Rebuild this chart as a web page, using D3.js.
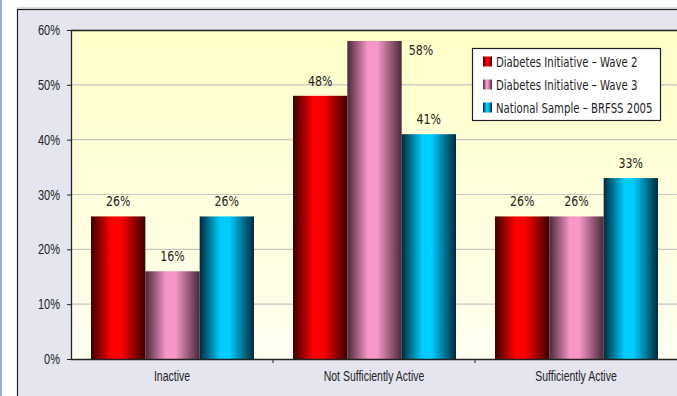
<!DOCTYPE html>
<html>
<head>
<meta charset="utf-8">
<script src="https://cdn.jsdelivr.net/npm/d3@7"></script>
<style>
  body { margin: 0; background: #fff; }
  svg { display: block; font-family: "DejaVu Sans", sans-serif; }
</style>
</head>
<body>
<svg id="chart" width="677" height="396"></svg>
<script>
var categories = ["Inactive", "Not Sufficiently Active", "Sufficiently Active"];
var seriesNames = ["Diabetes Initiative \u2013 Wave 2", "Diabetes Initiative \u2013 Wave 3", "National Sample \u2013 BRFSS 2005"];
var wave2 = [26, 48, 26];
var wave3 = [16, 58, 26];
var brfss = [26, 41, 33];
var yTicks = [0, 10, 20, 30, 40, 50, 60];

var seriesValues = [wave2, wave3, brfss];
var palette = [
  {edge: "#3a0000", mid: "#ff0000"},
  {edge: "#4a2838", mid: "#f797c8"},
  {edge: "#002a3a", mid: "#00ccff"}
];

var svg = d3.select("#chart");
var defs = svg.append("defs");

var margin = {top: 30, right: 0, bottom: 37, left: 71},
	width = 677 - margin.left - margin.right,
	height = 396 - margin.top - margin.bottom;

// the original uses a condensed face; squeeze the text horizontally
function condense(sel, k) {
	sel.each(function() {
		var t = d3.select(this),
			x0 = +t.attr("x") || 0;
		t.attr("x", x0 / k).attr("transform", "scale(" + k + ",1)");
	});
}

// outer panel
svg.append("rect").attr("x", 0).attr("y", 0).attr("width", 2).attr("height", 396).attr("fill", "#93b4d4");
svg.append("rect").attr("x", 17.5).attr("y", 9.5).attr("width", 680).attr("height", 400)
	.attr("fill", "#e5e5f0").attr("stroke", "#222").attr("stroke-width", 1.2);
svg.append("line").attr("x1", 17).attr("x2", 677).attr("y1", 8).attr("y2", 8).attr("stroke", "#bbb");

var bg = defs.append("linearGradient").attr("id", "plotbg").attr("x1", 0).attr("x2", 0).attr("y1", 0).attr("y2", 1);
bg.append("stop").attr("offset", "0%").attr("stop-color", "#ffffc8");
bg.append("stop").attr("offset", "100%").attr("stop-color", "#fffff0");

palette.forEach(function(p, i) {
	var g = defs.append("linearGradient").attr("id", "bar" + i).attr("x1", 0).attr("x2", 1).attr("y1", 0).attr("y2", 0);
	g.append("stop").attr("offset", "0%").attr("stop-color", p.edge);
	g.append("stop").attr("offset", "38%").attr("stop-color", p.mid);
	g.append("stop").attr("offset", "55%").attr("stop-color", p.mid);
	g.append("stop").attr("offset", "100%").attr("stop-color", p.edge);
});

var plot = svg.append("g").attr("transform", "translate(" + margin.left + "," + margin.top + ")");

var x = d3.scaleBand().domain(categories).range([0, width]).paddingInner(0).paddingOuter(0);
var x1 = d3.scaleBand().domain(d3.range(seriesNames.length)).range([20, x.bandwidth() - 19]);
var y = d3.scaleLinear().domain([0, 60]).range([height, 0]);

plot.append("rect").attr("width", width + 2).attr("height", height).attr("fill", "url(#plotbg)");

plot.selectAll(".grid")
	.data(yTicks.slice(1))
	.enter().append("line")
	.attr("class", "grid")
	.attr("x1", 0).attr("x2", width)
	.attr("y1", function(d) { return y(d); })
	.attr("y2", function(d) { return y(d); })
	.attr("stroke", "#c4c4c4").attr("stroke-width", 1.2);

plot.append("line").attr("x1", 0).attr("x2", width).attr("y1", 0.5).attr("y2", 0.5)
	.attr("stroke", "#222").attr("stroke-width", 1.3);

var groups = plot.selectAll(".group")
	.data(categories)
	.enter().append("g")
	.attr("class", "group")
	.attr("transform", function(d) { return "translate(" + x(d) + ",0)"; });

groups.selectAll("rect")
	.data(function(d, ci) { return seriesValues.map(function(s, si) { return {s: si, v: s[ci]}; }); })
	.enter().append("rect")
	.attr("x", function(d) { return x1(d.s); })
	.attr("width", x1.bandwidth())
	.attr("y", function(d) { return y(d.v); })
	.attr("height", function(d) { return height - y(d.v); })
	.attr("fill", function(d) { return "url(#bar" + d.s + ")"; });

groups.selectAll("text.val")
	.data(function(d, ci) { return seriesValues.map(function(s, si) { return {s: si, v: s[ci]}; }); })
	.enter().append("text")
	.attr("class", "val")
	.attr("x", function(d) {
		return y(d.v) < 20 ? x1(d.s) + x1.bandwidth() + 7 : x1(d.s) + x1.bandwidth() / 2;
	})
	.attr("y", function(d) { return y(d.v) < 20 ? y(d.v) + 14 : y(d.v) - 10; })
	.attr("text-anchor", function(d) { return y(d.v) < 20 ? "start" : "middle"; })
	.attr("font-size", 14.5)
	.attr("fill", "#222")
	.text(function(d) { return d.v + "%"; })
	.call(condense, 0.76);

var yAxis = plot.append("g")
	.call(d3.axisLeft(y).tickValues(yTicks).tickSize(4).tickFormat(function(d) { return d + "%"; }));
yAxis.select(".domain").attr("stroke", "#222").attr("stroke-width", 1.3).attr("d", "M0.5," + height + "V0");
yAxis.selectAll(".tick line").attr("stroke", "#222");
yAxis.selectAll(".tick text").attr("font-size", 14.5).attr("fill", "#222").attr("x", -11).attr("font-family", null)
	.call(condense, 0.76);

var xAxis = plot.append("g")
	.attr("transform", "translate(0," + height + ")")
	.call(d3.axisBottom(x).tickSize(0).tickPadding(11));
xAxis.select(".domain").attr("stroke", "#222").attr("stroke-width", 1.3).attr("d", "M0,0.5H" + (width + 2));
xAxis.selectAll(".tick text").attr("font-size", 15).attr("fill", "#222").attr("font-family", null)
	.call(condense, 0.70);

xAxis.selectAll(".sep")
	.data(categories.slice(1))
	.enter().append("line")
	.attr("class", "sep")
	.attr("x1", function(d) { return x(d); })
	.attr("x2", function(d) { return x(d); })
	.attr("y1", 0).attr("y2", 4)
	.attr("stroke", "#222");

// legend
var legend = svg.append("g").attr("transform", "translate(472,48)");
legend.append("rect").attr("x", 0.5).attr("y", 0.5).attr("width", 188).attr("height", 72)
	.attr("fill", "#fff").attr("stroke", "#222").attr("stroke-width", 1.2);
var items = legend.selectAll(".item")
	.data(seriesNames)
	.enter().append("g")
	.attr("class", "item")
	.attr("transform", function(d, i) { return "translate(11," + (13.5 + i * 23) + ")"; });
items.append("rect").attr("x", 0).attr("y", -5).attr("width", 9).attr("height", 10)
	.attr("fill", function(d, i) { return "url(#bar" + i + ")"; });
items.append("text").attr("x", 13).attr("y", 0).attr("dy", "0.35em")
	.attr("font-size", 14.5).attr("fill", "#222")
	.text(function(d) { return d; })
	.call(condense, 0.70);
</script>
</body>
</html>
